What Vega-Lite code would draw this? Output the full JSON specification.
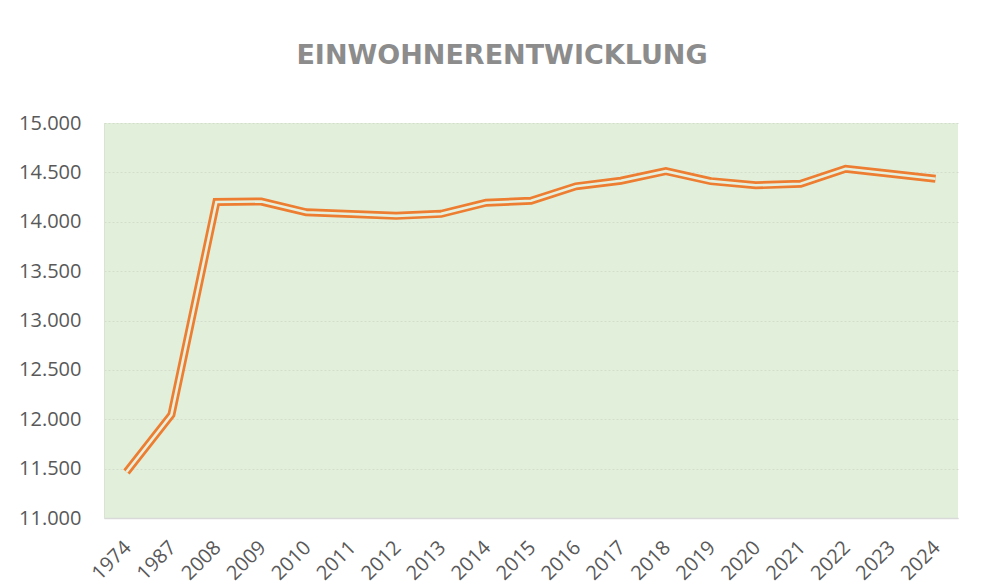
{
  "$schema": "https://vega.github.io/schema/vega-lite/v6.json",
  "autosize": {"type": "none"},
  "width": 854,
  "height": 395,
  "padding": {"left": 104, "top": 123, "right": 29, "bottom": 70},
  "background": "white",
  "config": {
    "locale": {"number": {"decimal": ",", "thousands": ".", "grouping": [3], "currency": ["", " €"]}},
    "view": {"fill": "#E2EFDA", "stroke": null},
    "font": "Open Sans"
  },
  "title": {
    "text": "EINWOHNERENTWICKLUNG",
    "font": "DejaVu Sans",
    "fontSize": 27,
    "fontWeight": "bold",
    "color": "#8c8c8c",
    "anchor": "middle",
    "dx": -29,
    "offset": 43
  },
  "data": {
    "values": [
      {"Jahr": "1974", "Einwohner": 11466},
      {"Jahr": "1987", "Einwohner": 12046},
      {"Jahr": "2008", "Einwohner": 14200},
      {"Jahr": "2009", "Einwohner": 14205},
      {"Jahr": "2010", "Einwohner": 14096},
      {"Jahr": "2011", "Einwohner": 14078},
      {"Jahr": "2012", "Einwohner": 14060},
      {"Jahr": "2013", "Einwohner": 14080},
      {"Jahr": "2014", "Einwohner": 14193},
      {"Jahr": "2015", "Einwohner": 14212},
      {"Jahr": "2016", "Einwohner": 14359},
      {"Jahr": "2017", "Einwohner": 14415},
      {"Jahr": "2018", "Einwohner": 14512},
      {"Jahr": "2019", "Einwohner": 14411},
      {"Jahr": "2020", "Einwohner": 14369},
      {"Jahr": "2021", "Einwohner": 14385},
      {"Jahr": "2022", "Einwohner": 14536},
      {"Jahr": "2023", "Einwohner": 14486},
      {"Jahr": "2024", "Einwohner": 14436}
    ]
  },
  "encoding": {
    "x": {
      "field": "Jahr",
      "type": "ordinal",
      "sort": null,
      "scale": {"type": "point", "padding": 0.5},
      "axis": {
        "title": null,
        "labelAngle": -45,
        "labelFont": "Open Sans",
        "labelFontSize": 20,
        "labelColor": "#595959",
        "labelPadding": 19,
        "labelOffset": -6,
        "ticks": false,
        "domain": true,
        "domainColor": "#d9d9d9",
        "domainWidth": 1.5,
        "grid": false
      }
    },
    "y": {
      "field": "Einwohner",
      "type": "quantitative",
      "scale": {"domain": [11000, 15000], "nice": false, "zero": false},
      "axis": {
        "title": null,
        "values": [11000, 11500, 12000, 12500, 13000, 13500, 14000, 14500, 15000],
        "format": ",.0f",
        "labelFont": "Open Sans",
        "labelFontSize": 20,
        "labelColor": "#595959",
        "labelPadding": 23,
        "ticks": false,
        "domain": true,
        "domainColor": "#d9e2d3",
        "grid": true,
        "gridColor": "#d4dccd",
        "gridDash": [2, 2],
        "gridWidth": 1
      }
    }
  },
  "layer": [
    {"mark": {"type": "line", "color": "#ED7D31", "strokeWidth": 8, "strokeJoin": "miter", "strokeCap": "butt"}},
    {"mark": {"type": "line", "color": "#E6F0DE", "strokeWidth": 2.6, "strokeJoin": "miter", "strokeCap": "butt"}}
  ]
}
